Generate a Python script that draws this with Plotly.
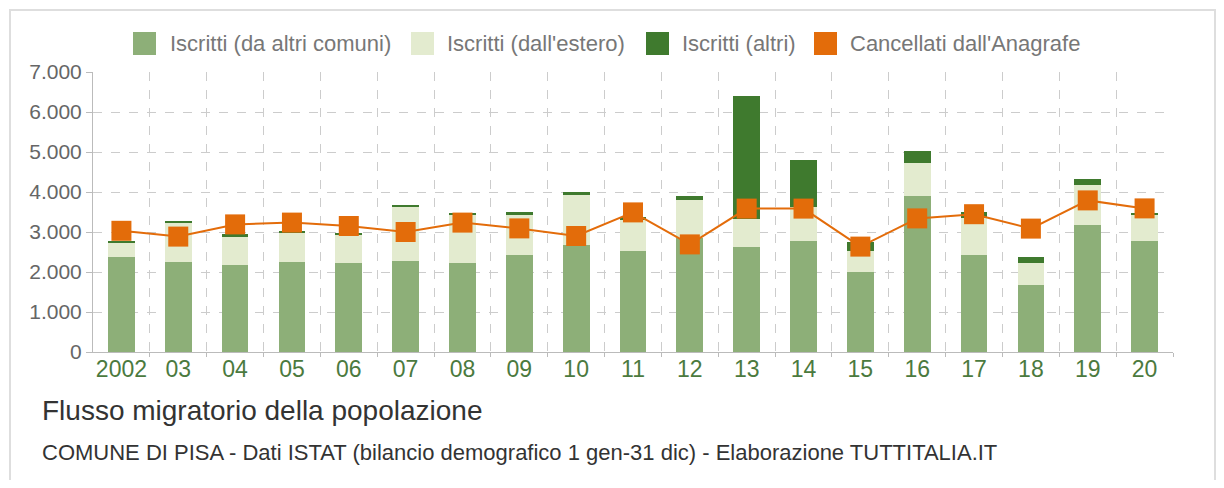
import plotly.graph_objects as go

years = ["2002", "03", "04", "05", "06", "07", "08", "09", "10", "11",
         "12", "13", "14", "15", "16", "17", "18", "19", "20"]
iscritti_comuni = [2370, 2260, 2170, 2240, 2220, 2280, 2220, 2420, 2670, 2520,
                   2850, 2620, 2770, 1990, 3900, 2420, 1670, 3180, 2770]
iscritti_estero = [365, 960, 715, 740, 705, 1345, 1200, 1015, 1265, 780,
                   950, 700, 865, 545, 835, 920, 550, 995, 655]
iscritti_altri = [40, 50, 65, 35, 40, 40, 50, 75, 75, 85,
                  100, 3090, 1175, 225, 300, 165, 160, 150, 40]
cancellati = [3030, 2885, 3190, 3235, 3150, 3000, 3235, 3090, 2900, 3490,
              2690, 3585, 3585, 2635, 3340, 3445, 3085, 3790, 3590]

names = ["Iscritti (da altri comuni)", "Iscritti (dall'estero)",
         "Iscritti (altri)", "Cancellati dall'Anagrafe"]
colors = ["#8daf78", "#e3ebcf", "#3f7a2e", "#e36c0a"]

x = list(range(len(years)))

fig = go.Figure()
for vals, name, col in zip([iscritti_comuni, iscritti_estero, iscritti_altri],
                           names[:3], colors[:3]):
    fig.add_trace(go.Bar(x=x, y=vals, name=name, marker_color=col,
                         marker_line_width=0, width=0.47, showlegend=False))
fig.add_trace(go.Scatter(x=x, y=cancellati, name=names[3], mode="lines+markers",
                         line=dict(color=colors[3], width=2),
                         marker=dict(symbol="square", size=20, color=colors[3]),
                         showlegend=False))

# page body has an 8px margin: figure coords = screen coords - 8
OFF = 8
W, H = 1224 - 2 * OFF, 488 - 2 * OFF
L, T = 93 - OFF, 72 - OFF
R = W - (1173 - OFF)
B = H - (352 - OFF)
pw, ph = W - L - R, H - T - B


def px(sx):
    return (sx - OFF - L) / pw


def py(sy):
    return (H - B - (sy - OFF)) / ph


shapes = [dict(type="rect", xref="paper", yref="paper",
               x0=px(10), x1=px(1215), y0=py(10), y1=py(520),
               line=dict(color="#dedede", width=2), fillcolor="rgba(0,0,0,0)",
               layer="below")]
annotations = []
sq_x = [133, 411, 646, 814]
tx_x = [168, 445, 680, 848]
for sx, tx, name, col in zip(sq_x, tx_x, names, colors):
    shapes.append(dict(type="rect", xref="paper", yref="paper",
                       x0=px(sx), x1=px(sx + 23), y0=py(32), y1=py(55),
                       line=dict(width=0), fillcolor=col))
    annotations.append(dict(text=name, xref="paper", yref="paper",
                            x=px(tx), y=py(43.5), xanchor="left", yanchor="middle",
                            showarrow=False,
                            font=dict(size=22, color="#777777")))

annotations.append(dict(text="Flusso migratorio della popolazione", xref="paper",
                        yref="paper", x=px(40), y=py(410), xanchor="left",
                        yanchor="middle", showarrow=False,
                        font=dict(size=28, color="#333333")))
annotations.append(dict(text="COMUNE DI PISA - Dati ISTAT (bilancio demografico 1 gen-31 dic) - Elaborazione TUTTITALIA.IT",
                        xref="paper", yref="paper", x=px(40), y=py(452),
                        xanchor="left", yanchor="middle", showarrow=False,
                        font=dict(size=22, color="#333333")))

fig.update_layout(
    width=W, height=H, barmode="stack", separators=",.",
    margin=dict(l=L, r=R, t=T, b=B),
    paper_bgcolor="white", plot_bgcolor="white",
    font=dict(family="Liberation Sans, Arial, sans-serif"),
    shapes=shapes, annotations=annotations,
    xaxis=dict(range=[-0.5, 18.5], tickmode="array", tickvals=x, ticktext=years,
               showgrid=False, zeroline=False, showline=True, linecolor="#bbbbbb",
               tickfont=dict(size=23, color="#4b7a3e"), ticks="",
               ticklabelstandoff=-4,
               minor=dict(tickvals=[i + 0.5 for i in range(19)], showgrid=True,
                          gridcolor="#cccccc", griddash="dash", gridwidth=1,
                          ticks="outside", ticklen=4, tickcolor="#bbbbbb")),
    yaxis=dict(range=[0, 7000], dtick=1000, tickformat=",d",
               showgrid=True, gridcolor="#cccccc", griddash="dash",
               zeroline=False, showline=True, linecolor="#bbbbbb",
               ticks="outside", ticklen=6, tickcolor="#bbbbbb",
               tickfont=dict(size=21, color="#666666")),
)

fig.write_html("out.html")
